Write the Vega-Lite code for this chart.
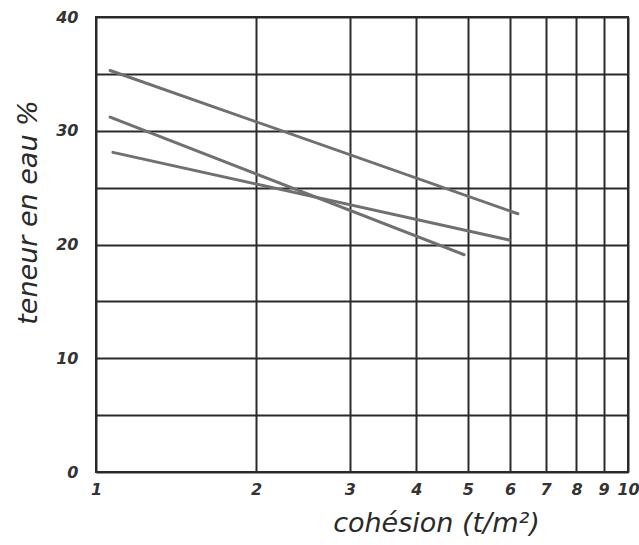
{
  "$schema": "https://vega.github.io/schema/vega-lite/v6.json",
  "width": 532,
  "height": 455,
  "autosize": "none",
  "padding": {"left": 96, "top": 17, "right": 11, "bottom": 73},
  "background": "white",
  "config": {
    "view": {"stroke": "#2a2a2a", "strokeWidth": 2},
    "axis": {
      "labelFont": "DejaVu Sans",
      "labelFontStyle": "italic",
      "labelFontWeight": "bold",
      "labelFontSize": 16,
      "labelColor": "#333333",
      "titleFont": "DejaVu Sans",
      "titleFontStyle": "italic",
      "titleFontWeight": "normal",
      "titleFontSize": 27,
      "titleColor": "#2a2a2a",
      "gridColor": "#2a2a2a",
      "gridWidth": 2,
      "gridOpacity": 1,
      "domain": false,
      "ticks": false
    }
  },
  "data": {
    "values": [
      {"series": "A", "cohesion": 1.063, "teneur": 35.3},
      {"series": "A", "cohesion": 6.21, "teneur": 22.7},
      {"series": "B", "cohesion": 1.063, "teneur": 31.2},
      {"series": "B", "cohesion": 4.92, "teneur": 19.1},
      {"series": "C", "cohesion": 1.076, "teneur": 28.1},
      {"series": "C", "cohesion": 5.98, "teneur": 20.4}
    ]
  },
  "mark": {"type": "line", "color": "#707070", "strokeWidth": 3, "strokeCap": "round"},
  "encoding": {
    "x": {
      "field": "cohesion",
      "type": "quantitative",
      "scale": {"type": "log", "domain": [1, 10], "nice": false},
      "axis": {
        "values": [1, 2, 3, 4, 5, 6, 7, 8, 9, 10],
        "labelPadding": 9,
        "labelFlush": false,
        "labelOverlap": false,
        "title": "cohésion (t/m²)",
        "titleX": 340,
        "titleY": 51,
        "titleAlign": "center",
        "titleBaseline": "middle"
      }
    },
    "y": {
      "field": "teneur",
      "type": "quantitative",
      "scale": {"domain": [0, 40], "nice": false},
      "axis": {
        "values": [0, 5, 10, 15, 20, 25, 30, 35, 40],
        "labelExpr": "datum.value % 10 === 0 ? datum.label : ''",
        "labelPadding": 18,
        "labelOverlap": false,
        "labelFlush": false,
        "title": "teneur en eau %",
        "titleX": -68,
        "titleY": 195,
        "titleAlign": "center",
        "titleBaseline": "middle",
        "titleAngle": -90
      }
    },
    "detail": {"field": "series"}
  }
}
